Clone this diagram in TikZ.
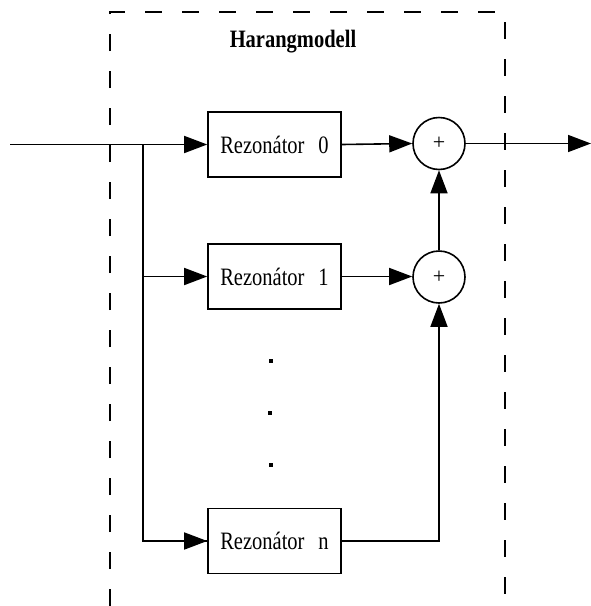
\documentclass[tikz,border=0pt]{standalone}
\usepackage{fontspec}
\setmainfont{Liberation Serif}
\usetikzlibrary{arrows.meta}
\tikzset{
  every picture/.style={x=1pt,y=-1pt},
  wire/.style={line width=1.6pt},
  arr/.style={wire,-{Triangle[length=23pt,width=17pt]}},
  resbox/.style={draw,line width=1.6pt,minimum width=133pt,minimum height=65pt,inner sep=0pt,
     font=\fontsize{25}{30}\selectfont},
  sumnode/.style={draw,circle,line width=1.6pt,minimum size=52pt,inner sep=0pt,
     font=\fontsize{22}{26}\selectfont},
  frame/.style={line width=1.6pt,dash pattern=on 17pt off 20pt},
  dotnode/.style={fill,minimum size=4.5pt,inner sep=0pt}
}
\newcommand{\sq}[1]{\scalebox{0.82}[1]{#1}}
\begin{document}
\begin{tikzpicture}
\useasboundingbox (0,0) rectangle (591,606);
\draw[frame] (110,606) -- (110,12) -- (505,12) -- (505,606);
\node[font=\fontsize{25}{30}\selectfont\bfseries] (title) at (293,42) {\sq{Harangmodell}};
\node[resbox] (r0) at (274.5,144.5) {\sq{Rezonátor\hspace{17pt}0}};
\node[resbox] (r1) at (274.5,276.5) {\sq{Rezonátor\hspace{17pt}1}};
\node[resbox] (rn) at (274.5,541) {\sq{Rezonátor\hspace{17pt}n}};
\node[sumnode] (s0) at (439,143.5) {+};
\node[sumnode] (s1) at (439,277) {+};
\node[dotnode] (d1) at (271,361) {};
\node[dotnode] (d2) at (270,413) {};
\node[dotnode] (d3) at (271,465) {};
\coordinate (in) at (10,144.5);
\coordinate (br) at (143,144.5);
\coordinate (out) at (591,143.5);
\draw[arr] (in) -- (r0.west);
\draw[wire] (br) |- (rn.west);
\draw[arr] (br |- r1.west) -- (r1.west);
\draw[arr] (br |- rn.west) -- (rn.west);
\draw[arr] (r0.east) -- (s0.west);
\draw[arr] (r1.east) -- (s1.west |- r1.east);
\draw[arr] (s1.north) -- (s0.south);
\draw[arr] (rn.east) -| (s1.south);
\draw[arr] (s0.east) -- (out);
\end{tikzpicture}
\end{document}
